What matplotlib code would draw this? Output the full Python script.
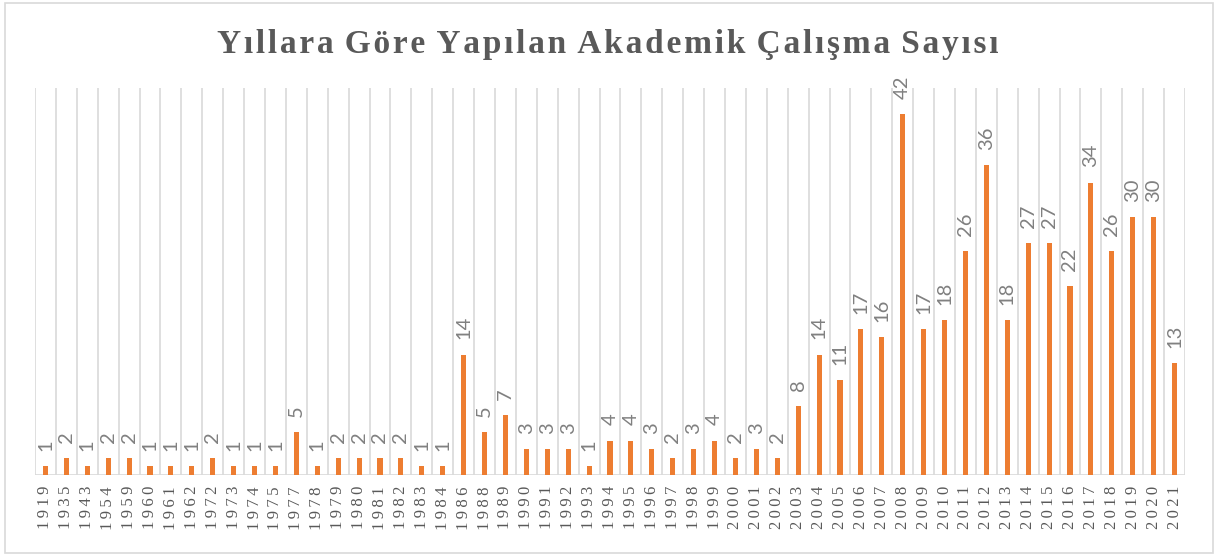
import matplotlib.pyplot as plt
from matplotlib.patches import Rectangle

# yillara gore calisma sayisi
years = ["1919", "1935", "1943", "1954", "1959", "1960", "1961", "1962", "1972", "1973",
         "1974", "1975", "1977", "1978", "1979", "1980", "1981", "1982", "1983", "1984",
         "1986", "1988", "1989", "1990", "1991", "1992", "1993", "1994", "1995", "1996",
         "1997", "1998", "1999", "2000", "2001", "2002", "2003", "2004", "2005", "2006",
         "2007", "2008", "2009", "2010", "2011", "2012", "2013", "2014", "2015", "2016",
         "2017", "2018", "2019", "2020", "2021"]
counts = [1, 2, 1, 2, 2, 1, 1, 1, 2, 1,
          1, 1, 5, 1, 2, 2, 2, 2, 1, 1,
          14, 5, 7, 3, 3, 3, 1, 4, 4, 3,
          2, 3, 4, 2, 3, 2, 8, 14, 11, 17,
          16, 42, 17, 18, 26, 36, 18, 27, 27, 22,
          34, 26, 30, 30, 13]
title = "Yıllara Göre Yapılan Akademik Çalışma Sayısı"

grid_col = "#d9d9d9"
fig = plt.figure(figsize=(12.15, 5.56), dpi=100)
ax = fig.add_axes([35 / 1215, 81 / 556, 1150 / 1215, 387 / 556])

x = list(range(len(years)))
bars = ax.bar(x, counts, width=0.24, color="#ed7d31", zorder=3)

for xi, v in zip(x, counts):
    ax.annotate(str(v), (xi, v), xytext=(0, 11), textcoords="offset points",
                rotation=90, ha="center", va="bottom", fontsize=14.5,
                family="Lato", color="#808080")

ax.set_xlim(-0.5, len(years) - 0.5)
ax.set_ylim(0, 45)
for b in range(len(years) + 1):
    ax.axvline(b - 0.5, color=grid_col, lw=1.2, zorder=1)
ax.axhline(0, color=grid_col, lw=1.2, zorder=2)

ax.set_yticks([])
ax.set_xticks(x)
ax.set_xticklabels(["\u2009".join(y) for y in years], rotation=90, family="Liberation Serif",
                   fontsize=12, color="#595959")
ax.tick_params(axis="x", length=0, pad=8)
for s in ax.spines.values():
    s.set_visible(False)

spaced = "\u200a".join(title).replace("\u200a \u200a", " \u200a")
fig.text(0.5, 1 - 44 / 556, spaced, ha="center", va="center", fontsize=24,
         fontweight="bold", family="Liberation Serif", color="#595959")

fig.patches.append(Rectangle((5 / 1215, 3 / 556), 1208 / 1215, 550 / 556,
                             transform=fig.transFigure, fill=False,
                             edgecolor=grid_col, lw=1.2))

plt.savefig("out.png")
